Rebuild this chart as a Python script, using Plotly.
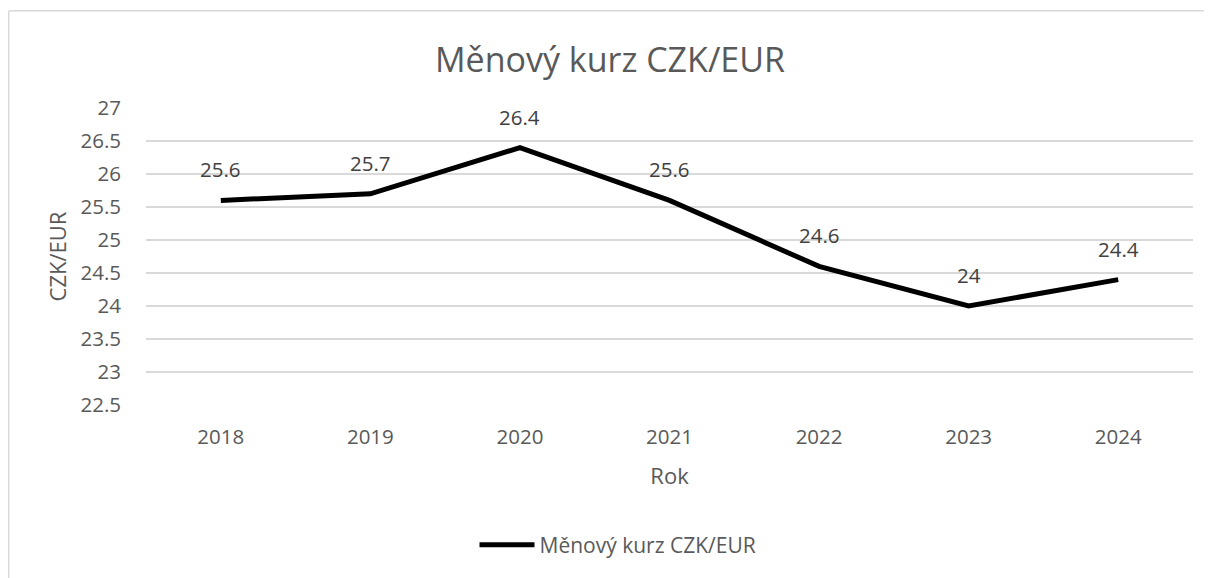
import plotly.graph_objects as go

# data
years = ["2018", "2019", "2020", "2021", "2022", "2023", "2024"]
rates = [25.6, 25.7, 26.4, 25.6, 24.6, 24.0, 24.4]
rate_labels = ["25.6", "25.7", "26.4", "25.6", "24.6", "24", "24.4"]
y_ticks = [22.5, 23, 23.5, 24, 24.5, 25, 25.5, 26, 26.5, 27]

FONT = "Open Sans"
GREY = "#595959"

# page has an 8px body margin, so work in reference coords minus 8
OFF = 8
W, H = 1212 - OFF, 578 - OFF
L, T = 146 - OFF, 108 - OFF
R = W - (1193 - OFF)
B = H - (407 - OFF)
pw, ph = W - L - R, H - T - B

fig = go.Figure()
fig.add_trace(go.Scatter(
    x=years, y=rates, mode="lines", name="Měnový kurz CZK/EUR",
    line=dict(color="black", width=5),
))

# data labels above the points (category index, since "2018" would be read as a number)
for i, (v, lab) in enumerate(zip(rates, rate_labels)):
    fig.add_annotation(x=i, y=v, xref="x", yref="y", text=lab,
                       showarrow=False, yshift=31,
                       font=dict(family=FONT, size=20.5, color="#404040"))

# chart border (only left and top visible in the crop)
bx0 = (0.75 - L) / pw
by0 = (H - B - (10 - OFF)) / ph
fig.add_shape(type="line", xref="paper", yref="paper", x0=bx0, x1=bx0,
              y0=by0, y1=-(B + 5) / ph, line=dict(color="#d9d9d9", width=1.5))
fig.add_shape(type="line", xref="paper", yref="paper", x0=bx0, x1=(W + 5 - L) / pw,
              y0=by0, y1=by0, line=dict(color="#d9d9d9", width=1.5))

fig.update_layout(
    width=W, height=H,
    margin=dict(l=L, r=R, t=T, b=B),
    paper_bgcolor="white", plot_bgcolor="white",
    title=dict(text="Měnový kurz CZK/EUR", x=0.5, xanchor="center",
               y=1 - (60 - OFF) / H, yanchor="middle", yref="container",
               font=dict(family=FONT, size=34, color=GREY)),
    showlegend=True,
    legend=dict(orientation="h", x=(618 - 146) / 1047, xanchor="center",
                y=(H - B - (548 - OFF)) / ph, yanchor="middle",
                font=dict(family=FONT, size=21, color=GREY),
                itemwidth=55),
    font=dict(family=FONT, color=GREY),
)
fig.update_xaxes(
    type="category", range=[-0.5, 6.5], showgrid=False, showline=False,
    ticks="", ticklabelstandoff=17,
    tickfont=dict(family=FONT, size=20.5, color=GREY),
    title=dict(text="Rok", font=dict(family=FONT, size=22, color=GREY), standoff=20),
)
fig.update_yaxes(
    range=[22.5, 27], tickvals=y_ticks, ticktext=[f"{t:g}" for t in y_ticks],
    showgrid=True, gridcolor="#d9d9d9", gridwidth=1.5, zeroline=False,
    showline=False, ticks="", ticklabelstandoff=24,
    tickfont=dict(family=FONT, size=20.5, color=GREY),
    title=dict(text="CZK/EUR", font=dict(family=FONT, size=22, color=GREY), standoff=7),
)

fig.write_html("out.html")
